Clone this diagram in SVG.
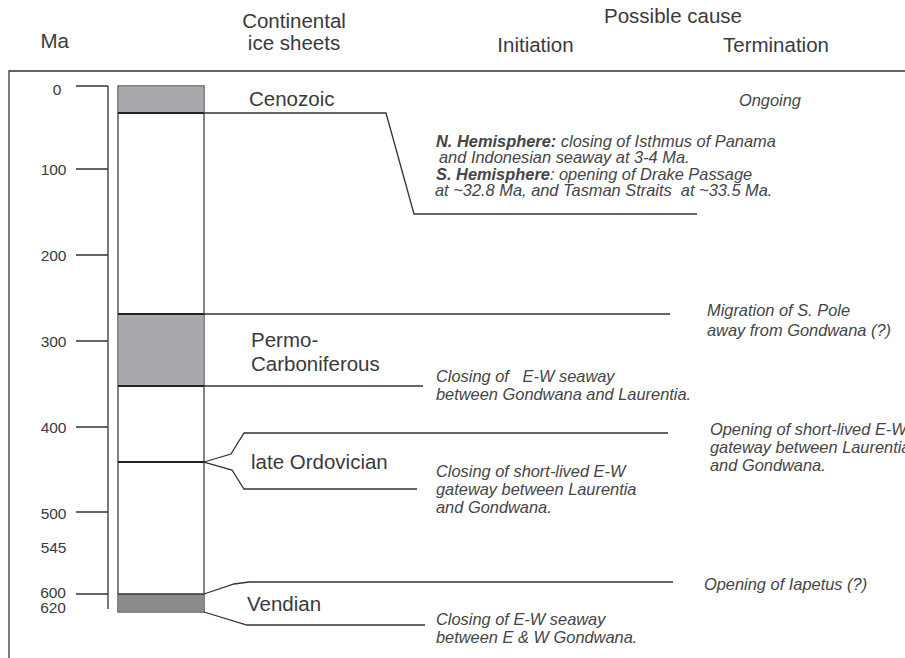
<svg xmlns="http://www.w3.org/2000/svg" width="905" height="658" viewBox="0 0 905 658">
<style>
text{font-family:"Liberation Sans",Arial,sans-serif;}
.hd{font-size:20.5px;fill:#3a3a3a;}
.ax{font-size:15.5px;fill:#3a3a3a;}
.era{font-size:20.5px;fill:#3a3a3a;}
.it{font-size:16.4px;font-style:italic;fill:#454545;}
.b{font-weight:bold;}
.ln{fill:none;stroke:#333;stroke-width:1.3;}
.thick{stroke:#222;stroke-width:2;fill:none;}
.g1{fill:#a7a9ac;}
.g2{fill:#8b8b8e;}
</style>
<rect width="905" height="658" fill="#fff"/>
<path id="frame" class="ln" d="M9,658 V71 H905"/>
<g id="headers">
<text class="hd" x="40.5" y="48">Ma</text>
<text class="hd" x="294" y="28" text-anchor="middle">Continental</text>
<text class="hd" x="294" y="50" text-anchor="middle">ice sheets</text>
<text class="hd" x="673" y="23" text-anchor="middle">Possible cause</text>
<text class="hd" x="535.5" y="52" text-anchor="middle">Initiation</text>
<text class="hd" x="776" y="52" text-anchor="middle">Termination</text>
</g>
<g id="axis">
<path class="ln" d="M108,86 V609 M76,86 H108 M76,169 H108 M76,255 H108 M76,341 H108 M76,427 H108 M76,512 H108 M76,594 H108"/>
<text class="ax" x="57" y="95" text-anchor="middle">0</text>
<text class="ax" x="66.5" y="175" text-anchor="end">100</text>
<text class="ax" x="66.5" y="261" text-anchor="end">200</text>
<text class="ax" x="66.5" y="347" text-anchor="end">300</text>
<text class="ax" x="66.5" y="433" text-anchor="end">400</text>
<text class="ax" x="66.5" y="518.5" text-anchor="end">500</text>
<text class="ax" x="66.5" y="552.5" text-anchor="end">545</text>
<text class="ax" x="66" y="598" text-anchor="end">600</text>
<text class="ax" x="66" y="612.5" text-anchor="end">620</text>
</g>
<g id="column">
<rect x="118" y="86" width="86" height="526" fill="#fff" stroke="#333" stroke-width="1.2"/>
<rect class="g1" x="118.6" y="86.6" width="84.8" height="26.4"/>
<rect class="g1" x="118.6" y="314" width="84.8" height="72"/>
<rect class="g2" x="118.6" y="594" width="84.8" height="17.4"/>
<path class="thick" d="M118,113 H204 M118,314 H204 M118,386 H204 M118,462 H204"/>
<path class="ln" d="M118,594 H204"/>
</g>
<g id="connectors">
<path class="ln" d="M204,113 H386 L414,214 H697"/>
<path class="ln" d="M204,314 H670"/>
<path class="ln" d="M204,386 H423"/>
<path class="ln" d="M204,462 L231,454 L244,433 H668"/>
<path class="ln" d="M204,462 L232,470 L244,489 H417"/>
<path class="ln" d="M204,594 L234,584 L249,582 H673"/>
<path class="ln" d="M204,612 L247,625 H425"/>
</g>
<g id="cenozoic">
<text class="era" x="249" y="106">Cenozoic</text>
<text class="it" x="739" y="106">Ongoing</text>
<text class="it" x="436" y="147"><tspan class="b">N. Hemisphere:</tspan> closing of Isthmus of Panama</text>
<text class="it" x="439" y="163">and Indonesian seaway at 3-4 Ma.</text>
<text class="it" x="436" y="180"><tspan class="b">S. Hemisphere</tspan>: opening of Drake Passage</text>
<text class="it" x="435" y="196" xml:space="preserve">at ~32.8 Ma, and Tasman Straits  at ~33.5 Ma.</text>
</g>
<g id="permo-carboniferous">
<text class="era" x="251" y="347">Permo-</text>
<text class="era" x="251" y="371">Carboniferous</text>
<text class="it" x="707" y="316">Migration of S. Pole</text>
<text class="it" x="707" y="336">away from Gondwana (?)</text>
<text class="it" x="436" y="382" xml:space="preserve">Closing of   E-W seaway</text>
<text class="it" x="436" y="400">between Gondwana and Laurentia.</text>
</g>
<g id="late-ordovician">
<text class="era" x="251" y="469">late Ordovician</text>
<text class="it" x="710" y="435">Opening of short-lived E-W</text>
<text class="it" x="710" y="453">gateway between Laurentia</text>
<text class="it" x="710" y="471">and Gondwana.</text>
<text class="it" x="436" y="477">Closing of short-lived E-W</text>
<text class="it" x="436" y="495">gateway between Laurentia</text>
<text class="it" x="436" y="513">and Gondwana.</text>
</g>
<g id="vendian">
<text class="era" x="247" y="611">Vendian</text>
<text class="it" x="704" y="590">Opening of Iapetus (?)</text>
<text class="it" x="436" y="625">Closing of E-W seaway</text>
<text class="it" x="436" y="643">between E &amp; W Gondwana.</text>
</g>
</svg>
